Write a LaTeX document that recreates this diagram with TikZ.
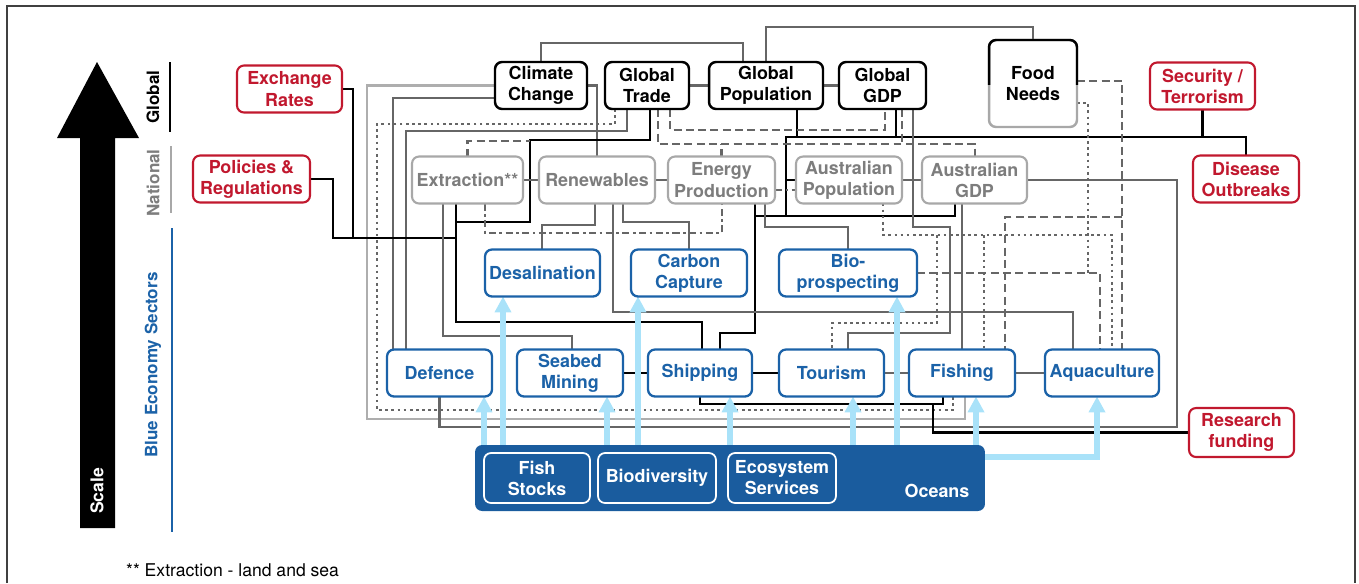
\documentclass[tikz,border=0pt]{standalone}
\usepackage{fontspec}
\setmainfont{TeX Gyre Heros}
\usetikzlibrary{arrows.meta,backgrounds}

\definecolor{drvred}{HTML}{C1182E}
\definecolor{seablue}{HTML}{1B62A8}
\definecolor{oceanblue}{HTML}{1A5C9E}
\definecolor{natgray}{HTML}{A8A8A8}
\definecolor{nattext}{HTML}{7D7D7D}
\definecolor{linegray}{HTML}{666666}
\definecolor{paleline}{HTML}{AEAEAE}
\definecolor{feedblue}{HTML}{A9E2F9}

\tikzset{
  box/.style={rounded corners=4pt,align=center,inner sep=1pt,outer sep=0pt,
    minimum height=0.94cm,fill=white,font=\bfseries\fontsize{10.2}{12}\selectfont},
  glob/.style={box,draw=black,line width=1.4pt},
  drv/.style={box,draw=drvred,text=drvred,line width=1.2pt},
  nat/.style={box,draw=natgray,text=nattext,line width=1.2pt},
  sect/.style={box,draw=seablue,text=seablue,line width=1.3pt},
  stock/.style={box,draw=white,text=white,fill=oceanblue,line width=1pt,minimum height=1cm},
  blackln/.style={draw=black,line width=1.35pt},
  grayln/.style={draw=linegray,line width=1.2pt},
  paleln/.style={draw=paleline,line width=1.2pt},
  dashln/.style={grayln,dash pattern=on 4.5pt off 2.5pt},
  dotln/.style={grayln,dash pattern=on 1.5pt off 2pt},
  dashdotln/.style={grayln,dash pattern=on 4pt off 2pt on 1.5pt off 2pt},
  feed/.style={draw=feedblue,line width=3.4pt,-{Triangle[width=9pt,length=9pt]}},
  side/.style={rotate=90,font=\bfseries\fontsize{9.7}{11}\selectfont}
}

\begin{document}
\begin{tikzpicture}[x=0.02cm,y=-0.02cm]
\useasboundingbox (0,0) rectangle (1359,583);
\draw[line width=0.8pt,black!75] (7,583) -- (7,6) -- (1355,6) -- (1355,583);

% scale arrow and levels
\fill (80,528) -- (80,138) -- (57,138) -- (97,62) -- (139,138) -- (115,138) -- (115,528) -- cycle;
\node[side,text=white,font=\bfseries\fontsize{10}{12}\selectfont](scl)at(97, 491){Scale};
\node[side](lglob)at(153, 97){Global};
\node[side,text=nattext](lnat)at(153, 183){National};
\node[side,text=seablue](lblue)at(153, 365){Blue Economy Sectors};
\draw[line width=1.2pt] (170,62) -- (170,132);
\draw[natgray,line width=1.2pt] (171,146) -- (171,213);
\draw[seablue,line width=1.2pt] (172,228) -- (172,532);

% global
\node[glob,minimum width=1.84cm](cc)at(541, 85.5){Climate\\Change};
\node[glob,minimum width=1.68cm](gt)at(647, 85.5){Global\\Trade};
\node[glob,minimum width=2.28cm](gp)at(766, 85.5){Global\\Population};
\node[glob,minimum width=1.74cm](gg)at(882.5, 85.5){Global\\GDP};
\node[box,draw=natgray,line width=1.4pt,minimum width=1.76cm,minimum height=1.74cm](food)at(1033, 83.5){Food\\Needs};
\begin{scope}
  \clip (980,30) rectangle (1090,84);
  \draw[line width=1.4pt,rounded corners=4pt] (food.south west) rectangle (food.north east);
\end{scope}

% drivers
\node[drv,minimum width=2.1cm](er)at(289.5, 89){Exchange\\Rates};
\node[drv,minimum width=2.34cm](pol)at(251.5, 179){Policies \&\\Regulations};
\node[drv,minimum width=2.1cm](sec)at(1202.5, 86){Security /\\Terrorism};
\node[drv,minimum width=2.12cm](dis)at(1246, 179){Disease\\Outbreaks};
\node[drv,minimum width=2.1cm,minimum height=0.98cm](rf)at(1241.5, 432.5){Research\\funding};

% national
\node[nat,minimum width=2.22cm](ext)at(467.5, 180){Extraction**};
\node[nat,minimum width=2.32cm](ren)at(597, 180){Renewables};
\node[nat,minimum width=2.14cm](ep)at(721.5, 180){Energy\\Production};
\node[nat,minimum width=2.12cm](ap)at(849, 180){Australian\\Population};
\node[nat,minimum width=2.1cm](ag)at(974.5, 180){Australian\\GDP};

% blue economy sectors
\node[sect,minimum width=2.3cm](des)at(542.5, 273){Desalination};
\node[sect,minimum width=2.32cm](cap)at(689, 273){Carbon\\Capture};
\node[sect,minimum width=2.76cm](bio)at(848, 273){Bio-\\prospecting};
\node[sect,minimum width=2.1cm](def)at(439.5, 373){Defence};
\node[sect,minimum width=2.12cm](sea)at(570, 373){Seabed\\Mining};
\node[sect,minimum width=2.08cm](shp)at(700, 373){Shipping};
\node[sect,minimum width=2.1cm](tou)at(831.5, 373){Tourism};
\node[sect,minimum width=2.12cm](fsh)at(962, 373){Fishing};
\node[sect,minimum width=2.28cm](aqu)at(1102, 373){Aquaculture};

% oceans
\node[box,fill=oceanblue,minimum width=10.2cm,minimum height=1.32cm](oc)at(730, 478){};
\node[stock,minimum width=2.12cm](fs)at(537, 478){Fish\\Stocks};
\node[stock,minimum width=2.36cm](bd)at(657, 478){Biodiversity};
\node[stock,minimum width=2.16cm](es)at(782, 478){Ecosystem\\Services};
\node[text=white,font=\bfseries\fontsize{10.2}{12}\selectfont](ocl)at(937, 491){Oceans};

\node[anchor=west,font=\fontsize{10}{12}\selectfont](note)at(120, 570){** Extraction - land and sea};

% junctions
\coordinate (erj) at (353,238);
\coordinate (polj) at (456,238);
\coordinate (gtj) at (456,222);
\coordinate (extj) at (530,141);
\coordinate (ggj) at (902,144);
\coordinate (gpj) at (797,137);
\coordinate (gdj) at (896,137);
\coordinate (secj) at (1202.5,137);
\coordinate (busj) at (786,216);
\coordinate (agj) at (755,216);
\coordinate (touj) at (937,235);
\coordinate (fshj) at (984,235);
\coordinate (foodj) at (1122,217);
\coordinate (biol) at (1088,274);
\coordinate (rfj) at (933,404);

\begin{pgfonlayer}{background}
\draw[grayln] (cc.north) |- (743,43) -- (gp.north -| 743,0);
\draw[grayln] (gp.north) |- (1033,27) -- (food.north);
\draw[grayln] (gt) -- (gp);
\draw[grayln] (gp) -- (gg);
\draw[grayln] (cc.east) -| (ren.north);
% loops round the left
\draw[paleln] (cc.west) -| (367,419) -| (fsh.south -| 965,0);
\draw[grayln] (cc.west |- 0,98) -| (def.north -| 393,0);
\draw[grayln] (gt.south -| 627,0) |- (406,131) -- (def.north -| 406,0);
\draw[dotln] (gt.south -| 615,0) |- (377,124) |- (953,410) -- (fsh.south -| 953,0);
\draw[grayln] (ag.east) -| (1177,427) -| (def.south);
% black links
\draw[blackln] (er.east) -| (erj);
\draw[blackln] (pol.east) -| (333,238) -- (polj);
\draw[blackln] (ext.south -| 456,0) |- (702,322) -- (shp.north -| 702,0);
\draw[blackln] (gt.south -| 650,0) |- (530,140) |- (gtj);
\draw[blackln] (gp.south -| 797,0) -- (gpj);
\draw[blackln] (gg.south -| 896,0) -- (gdj);
\draw[blackln] (sec.south) -- (secj);
\draw[blackln] (ap.west) -| (786,137) -| (dis.north);
\draw[blackln] (ap.west) -| (busj);
\draw[blackln] (ep.south -| 755,0) |- (720,333) -- (shp.north -| 720,0);
\draw[blackln] (ag.south -| 955,0) |- (agj);
\draw[blackln] (shp.south) |- (943,404) -- (fsh.south -| 943,0);
\draw[blackln] (rf.west) -| (rfj);
\draw[blackln] (sea) -- (shp);
\draw[blackln] (shp) -- (tou);
\draw[grayln] (tou) -- (fsh);
\draw[grayln] (fsh) -- (aqu);
% national level
\draw[grayln] (ext) -- (ren);
\draw[grayln] (ren) -- (ep);
\draw[dashdotln] (ep.east |- 0,190) -- (ap.west |- 0,190);
\draw[grayln] (ap) -- (ag);
\draw[dashln] (ext.north) |- (extj);
\draw[dashdotln] (ext.south -| 485,0) |- (722,233) -- (ep.south -| 722,0);
\draw[grayln] (ext.south -| 443,0) |- (572,336) -- (sea.north -| 572,0);
\draw[grayln] (ren.south -| 595,0) |- (542,225) -- (des.north -| 542,0);
\draw[grayln] (ren.south -| 623,0) |- (689,222) -- (cap.north);
\draw[grayln] (ren.south -| 613,0) |- (1073,312) -- (aqu.north -| 1073,0);
\draw[grayln] (ep.south -| 765,0) |- (848,227) -- (bio.north);
\draw[dashln] (gt.south -| 658,0) |- (975,144) -- (ag.north -| 975,0);
\draw[dashln] (ep.north) -- (ep.north |- 0,144);
\draw[dashln] (gg.south -| 902,0) -- (ggj);
\draw[dashln] (gt.south -| 670,0) |- (885,130) -- (gg.south -| 885,0);
\draw[dotln] (ap.south -| 883,0) |- (1112,235) -- (aqu.north -| 1112,0);
\draw[dotln] (touj) |- (832,323) -- (tou.north -| 832,0);
\draw[dotln] (fshj) -- (fsh.north -| 984,0);
\draw[grayln] (gg.south -| 913,0) |- (950,227) |- (848,333) -- (tou.north -| 848,0);
\draw[grayln] (ag.south -| 962,0) -- (fsh.north -| 962,0);
\draw[dashln] (food.east |- 0,81) -| (aqu.north -| 1122,0);
\draw[dashln] (foodj) -| (fsh.north -| 1005,0);
\draw[dotln] (food.east |- 0,103) -| (biol);
\draw[dashln] (bio.east) -| (aqu.north -| 1100,0);
% ocean feeds
\draw[feed] (oc.north -| 484,0) -- (def.south -| 484,0);
\draw[feed] (oc.north -| 503,0) -- (des.south -| 503,0);
\draw[feed] (oc.north -| 607,0) -- (sea.south -| 607,0);
\draw[feed] (oc.north -| 638,0) -- (cap.south -| 638,0);
\draw[feed] (oc.north -| 730,0) -- (shp.south -| 730,0);
\draw[feed] (oc.north -| 853,0) -- (tou.south -| 853,0);
\draw[feed] (oc.north -| 897,0) -- (bio.south -| 897,0);
\draw[feed] (oc.north -| 976,0) -- (fsh.south -| 976,0);
\draw[feed] (oc.east |- 0,457) -| (aqu.south -| 1097,0);
\end{pgfonlayer}
\end{tikzpicture}
\end{document}
